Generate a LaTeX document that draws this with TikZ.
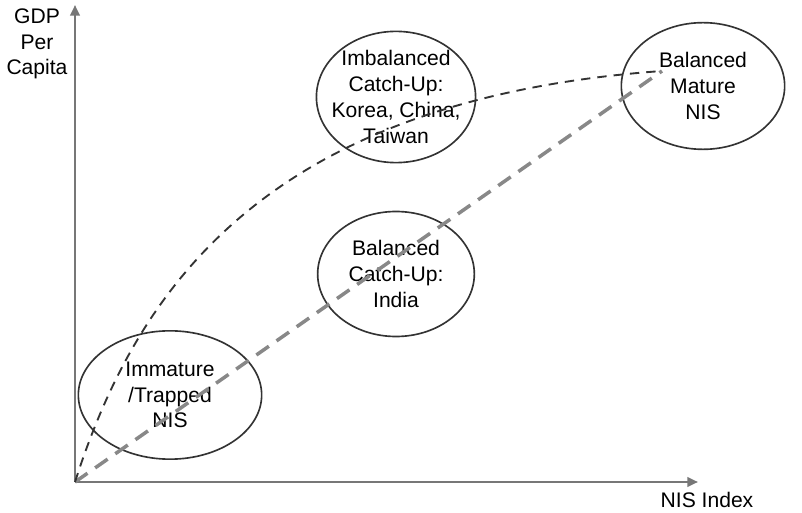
\documentclass[tikz,border=0pt]{standalone}
\usepackage{fontspec}
\setmainfont{Liberation Sans}
\usetikzlibrary{shapes.geometric,arrows.meta}
\definecolor{axisgrey}{HTML}{777777}
\definecolor{ringgrey}{HTML}{333333}
\definecolor{pathgrey}{HTML}{888888}
\tikzset{
  axis/.style    = {draw=axisgrey, line width=2pt, -{Triangle[length=9pt,width=8pt]}},
  stage/.style   = {ellipse, draw=ringgrey, line width=1.4pt, align=center,
                    inner sep=0pt, font=\fontsize{18}{22}\selectfont},
  label/.style   = {align=center, font=\fontsize{18}{22}\selectfont},
  balanced/.style   = {draw=pathgrey, line width=3pt, dash pattern=on 13pt off 8pt},
  imbalanced/.style = {draw=ringgrey, line width=1.6pt, dash pattern=on 8pt off 6pt},
}
\begin{document}
\begin{tikzpicture}[x=0.03cm, y=-0.03cm]
  \useasboundingbox (0,0) rectangle (802,513);
  % axes
  \coordinate (origin) at (75,482);
  \coordinate (ytop)   at (75,5);
  \coordinate (xend)   at (698,482);
  \draw[axis] (origin) -- (ytop);
  \draw[axis] (origin) -- (xend);
  \node [label] (ylab) at (37,44)  {GDP\\Per\\Capita};
  \node [label] (xlab) at (707,500) {NIS Index};
  % stages
  \node [stage, minimum width=5.5cm, minimum height=3.85cm] (immature)  at (170,395) {Immature\\/Trapped\\NIS};
  \node [stage, inner xsep=-7pt, inner ysep=0pt] (catchup) at (396,97) {Imbalanced\\Catch-Up:\\Korea, China,\\Taiwan};
  \node [stage, minimum width=4.7cm, minimum height=3.75cm] (india)     at (396,274) {Balanced\\Catch-Up:\\India};
  \node [stage, minimum width=4.9cm, minimum height=3.8cm]  (mature)    at (703,86)  {Balanced\\Mature\\NIS};
  % paths
  \coordinate (goal) at (662,71);
  \draw[balanced]   (origin) -- (goal);
  \draw[imbalanced] (origin) .. controls (135,295) and (260,100) .. (goal);
\end{tikzpicture}
\end{document}
